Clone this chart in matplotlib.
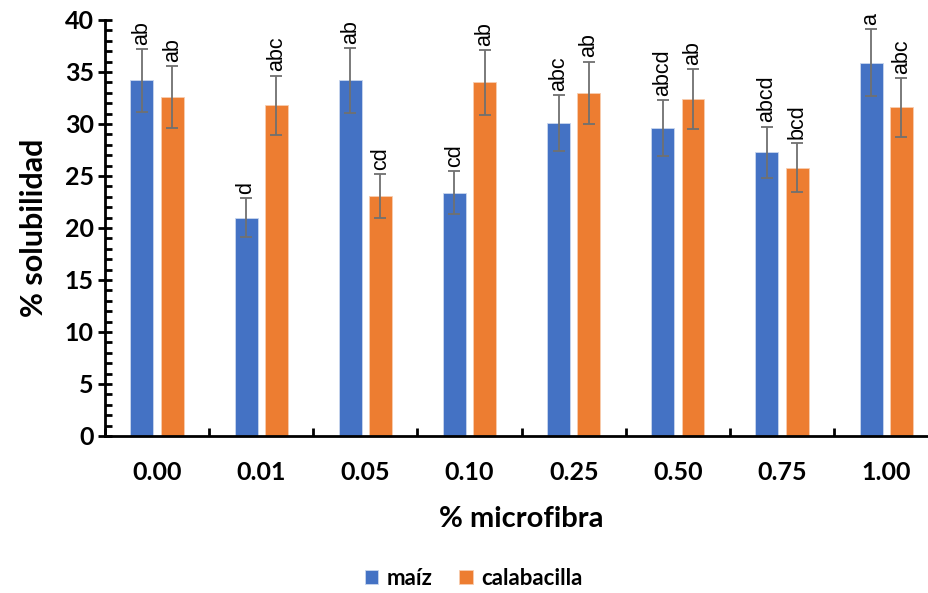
import matplotlib
matplotlib.use("Agg")
import matplotlib.pyplot as plt
from matplotlib.ticker import MultipleLocator
import numpy as np

plt.rcParams['font.family'] = ['Lato', 'DejaVu Sans']

categorias = ['0.00', '0.01', '0.05', '0.10', '0.25', '0.50', '0.75', '1.00']
maiz = [34.2, 21.0, 34.2, 23.4, 30.1, 29.6, 27.3, 35.9]
maiz_err = [3.0, 1.9, 3.1, 2.1, 2.7, 2.7, 2.45, 3.2]
calabacilla = [32.6, 31.8, 23.1, 34.0, 33.0, 32.4, 25.8, 31.6]
calabacilla_err = [2.95, 2.85, 2.1, 3.1, 3.0, 2.9, 2.35, 2.85]
letras_maiz = ['ab', 'd', 'ab', 'cd', 'abc', 'abcd', 'abcd', 'a']
letras_calabacilla = ['ab', 'abc', 'cd', 'ab', 'ab', 'ab', 'bcd', 'abc']

azul = '#4472C4'
naranja = '#ED7D31'

fig = plt.figure(figsize=(9.29, 5.93), dpi=100)
ax = fig.add_axes([0.113, 0.2648, 0.897, 0.7015])

x = np.arange(len(categorias))
ancho = 0.22
desp = 0.145

ekw = dict(ecolor='#707070', elinewidth=1.3, capsize=4, capthick=1.3)
ax.bar(x - desp, maiz, ancho, yerr=maiz_err, color=azul, label='maíz',
       edgecolor='#c9d6ee', linewidth=0.6, error_kw=ekw)
ax.bar(x + desp, calabacilla, ancho, yerr=calabacilla_err, color=naranja,
       label='calabacilla', edgecolor='#f8cdb0', linewidth=0.6, error_kw=ekw)

# letras de significancia
for i in range(len(categorias)):
    ax.text(x[i] - desp, maiz[i] + maiz_err[i] + 0.4, letras_maiz[i],
            rotation=90, ha='center', va='bottom', fontsize=15.5,
            family='Liberation Sans')
    ax.text(x[i] + desp, calabacilla[i] + calabacilla_err[i] + 0.4,
            letras_calabacilla[i], rotation=90, ha='center', va='bottom',
            fontsize=15.5, family='Liberation Sans')

ax.set_xlim(-0.5, len(categorias) - 0.5)
ax.set_ylim(0, 40)
ax.yaxis.set_major_locator(MultipleLocator(5))
ax.yaxis.set_minor_locator(MultipleLocator(1))

ax.set_xticks(x)
ax.set_xticklabels(categorias, fontsize=18, fontweight='bold')
ax.set_xticks(np.arange(len(categorias) + 1) - 0.5, minor=True)
ax.tick_params(axis='x', which='major', length=0, pad=18)
ax.tick_params(axis='x', which='minor', direction='in', length=6, width=2)
ax.tick_params(axis='y', which='major', direction='inout', length=10, width=2,
               labelsize=18, pad=3)
ax.tick_params(axis='y', which='minor', direction='in', length=5, width=2)
for lbl in ax.get_yticklabels():
    lbl.set_fontweight('bold')

for s in ['top', 'right']:
    ax.spines[s].set_visible(False)
for s in ['left', 'bottom']:
    ax.spines[s].set_linewidth(2)

ax.set_xlabel('% microfibra', fontsize=21, fontweight='bold', labelpad=16)
ax.set_ylabel('% solubilidad', fontsize=22, fontweight='bold', labelpad=12)

fig.legend(loc='center', bbox_to_anchor=(0.51, 0.025), ncol=2, frameon=False,
           prop={'weight': 'bold', 'size': 16}, handlelength=0.6, handleheight=0.6,
           columnspacing=1.2, handletextpad=0.4)

fig.savefig('out.png', dpi=100)
